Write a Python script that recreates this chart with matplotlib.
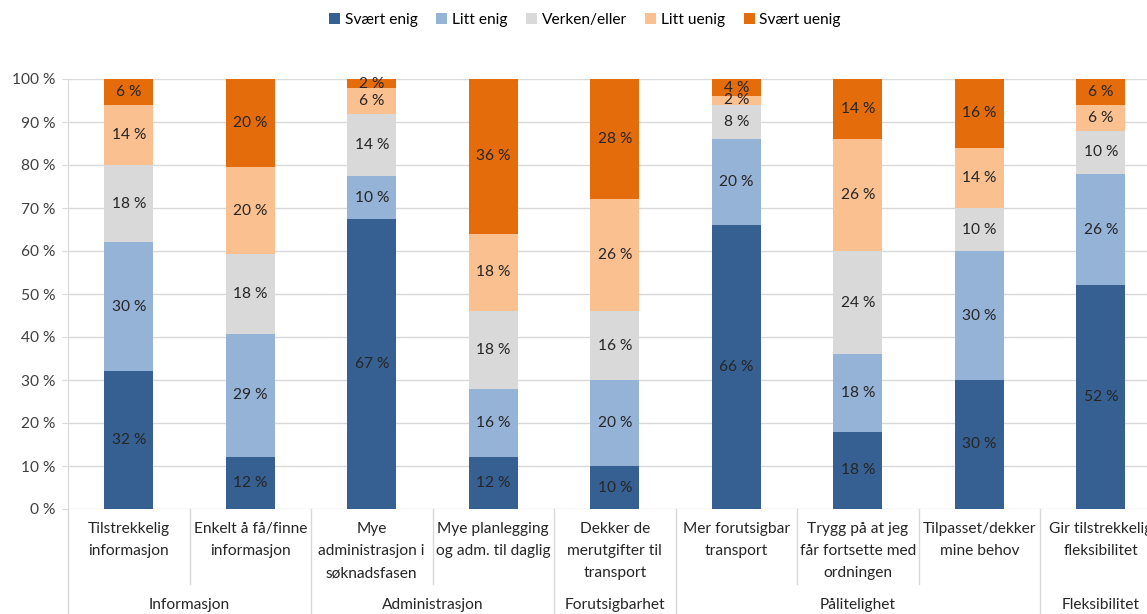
import matplotlib
matplotlib.use("Agg")
import matplotlib.pyplot as plt
from matplotlib.lines import Line2D
from matplotlib.patches import Patch

plt.rcParams['font.family'] = ['Lato', 'DejaVu Sans']

categories = [
    "Tilstrekkelig\ninformasjon",
    "Enkelt å få/finne\ninformasjon",
    "Mye\nadministrasjon i\nsøknadsfasen",
    "Mye planlegging\nog adm. til daglig",
    "Dekker de\nmerutgifter til\ntransport",
    "Mer forutsigbar\ntransport",
    "Trygg på at jeg\nfår fortsette med\nordningen",
    "Tilpasset/dekker\nmine behov",
    "Gir tilstrekkelig\nfleksibilitet",
]
groups = ["Informasjon", "Administrasjon", "Forutsigbarhet", "Pålitelighet", "Fleksibilitet"]
group_sizes = [2, 2, 1, 3, 1]

series_names = ["Svært enig", "Litt enig", "Verken/eller", "Litt uenig", "Svært uenig"]
svaert_enig = [32, 12.2, 67.4, 12, 10, 66, 18, 30, 52]
litt_enig = [30, 28.6, 10.0, 16, 20, 20, 18, 30, 26]
verken_eller = [18, 18.4, 14.5, 18, 16, 8, 24, 10, 10]
litt_uenig = [14, 20.4, 6.0, 18, 26, 2, 26, 14, 6]
svaert_uenig = [6, 20.4, 2.1, 36, 28, 4, 14, 16, 6]
series = [svaert_enig, litt_enig, verken_eller, litt_uenig, svaert_uenig]
colors = ["#366092", "#95B3D7", "#D9D9D9", "#FAC090", "#E46C0A"]
yticks = [0, 10, 20, 30, 40, 50, 60, 70, 80, 90, 100]

FS = 11.2

W, H = 1147, 614
fig = plt.figure(figsize=(W / 100, H / 100), dpi=100)
ax_left, ax_right, ax_top, ax_bottom = 68, 68 + 9 * 121.5, 79, 509
ax = fig.add_axes([ax_left / W, (H - ax_bottom) / H, (ax_right - ax_left) / W, (ax_bottom - ax_top) / H])

x = list(range(len(categories)))
bottom = [0.0] * len(categories)
for name, vals, col in zip(series_names, series, colors):
    ax.bar(x, vals, bottom=bottom, width=0.40, color=col, label=name, zorder=3)
    for xi, v, b in zip(x, vals, bottom):
        ax.text(xi, b + v / 2, f"{round(v):d} %", ha='center', va='center',
                fontsize=FS, color='#262626', zorder=4)
    bottom = [b + v for b, v in zip(bottom, vals)]

ax.set_xlim(-0.5, len(categories) - 0.5)
ax.set_ylim(0, 100)
ax.set_yticks(yticks)
ax.set_yticklabels([f"{t} %" for t in yticks], fontsize=FS, color='#404040')
ax.tick_params(axis='y', length=4, color='#D9D9D9', pad=5)
ax.set_xticks([])
ax.grid(axis='y', color='#D9D9D9', linewidth=1, zorder=0)
for s in ['top', 'right', 'bottom']:
    ax.spines[s].set_visible(False)
ax.spines['left'].set_color('#D9D9D9')
ax.spines['left'].set_zorder(5)

trans = ax.get_xaxis_transform()
axh = ax_bottom - ax_top


def fy(p):
    return (ax_bottom - p) / axh


for xi, lab in zip(x, categories):
    ax.text(xi, fy(522), lab, transform=trans, ha='center', va='top', fontsize=FS,
            color='#262626', linespacing=1.75, clip_on=False)

# divider lines
boundaries = []
pos = 0
for g in group_sizes:
    pos += g
    boundaries.append(pos)
group_edges = [0] + boundaries
for b in range(0, len(categories) + 1):
    xb = b - 0.5
    if b in group_edges:
        ln = Line2D([xb, xb], [0, fy(620)], transform=trans, color='#D9D9D9', lw=1, clip_on=False)
    else:
        ln = Line2D([xb, xb], [0, fy(584)], transform=trans, color='#D9D9D9', lw=1, clip_on=False)
    ax.add_line(ln)

start = 0
for gname, gs in zip(groups, group_sizes):
    cx = start + (gs - 1) / 2
    ax.text(cx, fy(605), gname, transform=trans, ha='center', va='center', fontsize=FS,
            color='#262626', clip_on=False)
    start += gs

handles = [Patch(facecolor=c, edgecolor='none') for c in colors]
fig.legend(handles, series_names, loc='center', bbox_to_anchor=(585 / W, 1 - 20 / H), ncol=5,
           frameon=False, fontsize=FS, handlelength=0.7, handleheight=0.7, handletextpad=0.3,
           columnspacing=1.2)

fig.savefig("out.png", dpi=100)
